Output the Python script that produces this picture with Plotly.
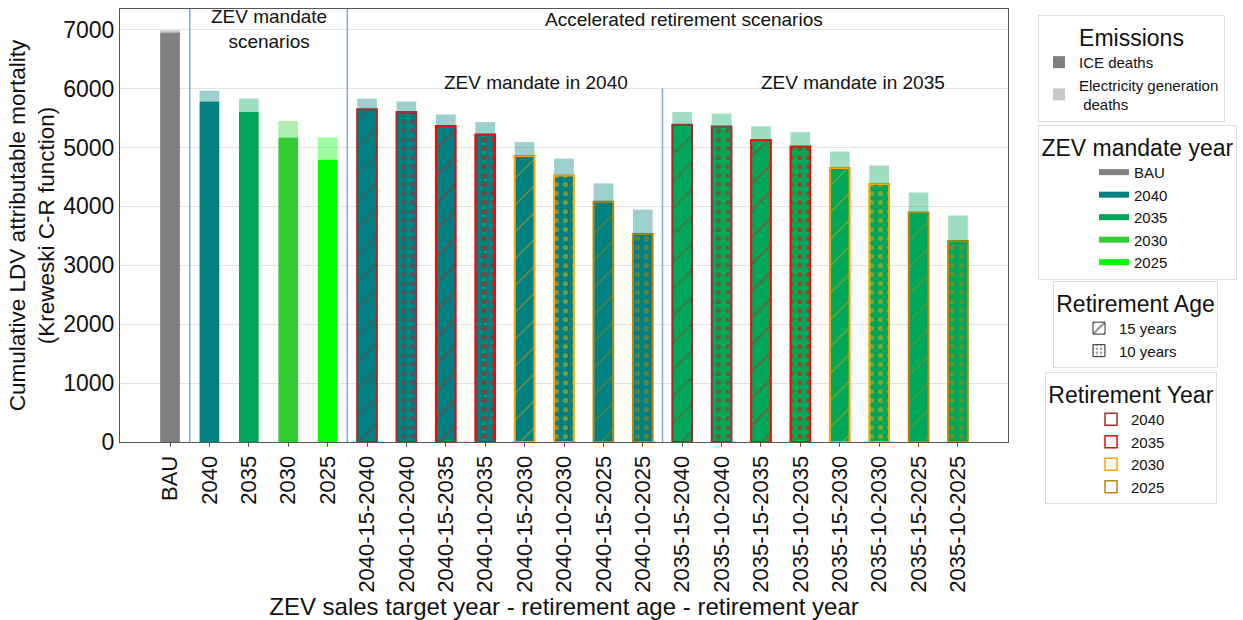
import plotly.graph_objects as go

# Scenario labels along the x axis
categories = [
    "BAU", "2040", "2035", "2030", "2025",
    "2040-15-2040", "2040-10-2040", "2040-15-2035", "2040-10-2035",
    "2040-15-2030", "2040-10-2030", "2040-15-2025", "2040-10-2025",
    "2035-15-2040", "2035-10-2040", "2035-15-2035", "2035-10-2035",
    "2035-15-2030", "2035-10-2030", "2035-15-2025", "2035-10-2025",
]

# Cumulative deaths attributable to ICE emissions
ice_deaths = [
    6950, 5780, 5600, 5170, 4790,
    5650, 5600, 5365, 5220, 4855, 4525, 4080, 3530,
    5385, 5355, 5125, 5015, 4650, 4380, 3895, 3410,
]

# Cumulative deaths attributable to electricity generation
elec_deaths = [
    40, 185, 230, 280, 380,
    180, 180, 195, 210, 235, 285, 310, 415,
    215, 220, 235, 245, 280, 315, 340, 435,
]

# ZEV mandate year, retirement age and retirement year for each scenario
mandate_year = ["BAU", "2040", "2035", "2030", "2025"] + ["2040"] * 8 + ["2035"] * 8
retire_age = [None] * 5 + ["15", "10"] * 8
retire_year = [None] * 5 + ["2040", "2040", "2035", "2035", "2030", "2030", "2025", "2025"] * 2

mandate_colors = {
    "BAU": "#808080", "2040": "#008080", "2035": "#00a65a",
    "2030": "#32cd32", "2025": "#00ff00",
}
mandate_light = {
    "BAU": "rgba(160,160,160,0.55)", "2040": "rgba(0,128,128,0.38)",
    "2035": "rgba(0,166,90,0.38)", "2030": "rgba(50,205,50,0.38)",
    "2025": "rgba(0,255,0,0.38)",
}
retire_colors = {"2040": "#a52a2a", "2035": "#ff0000", "2030": "#ffa500", "2025": "#b8860b"}
age_shapes = {"15": "/", "10": "."}

FONT = "Liberation Sans, Arial, sans-serif"
BAR_W = 0.5

fig = go.Figure()

# One ICE bar per scenario (hatched/outlined for retirement scenarios),
# with the electricity generation part stacked on top
for cat, ice, elec, m, age, ry in zip(categories, ice_deaths, elec_deaths,
                                      mandate_year, retire_age, retire_year):
    marker = dict(color=mandate_colors[m], line=dict(width=0))
    if ry is not None:
        ec = retire_colors[ry]
        marker["line"] = dict(color=ec, width=2)
        if age == "15":
            marker["pattern"] = dict(shape="/", fgcolor=ec, bgcolor=mandate_colors[m],
                                     fillmode="overlay", size=19, solidity=0.07)
        else:
            marker["pattern"] = dict(shape=".", fgcolor=ec, bgcolor=mandate_colors[m],
                                     fillmode="overlay", size=9, solidity=0.25)
    fig.add_trace(go.Bar(x=[cat], y=[ice], width=BAR_W, showlegend=False, marker=marker))
    fig.add_trace(go.Bar(x=[cat], y=[elec], base=[ice], width=BAR_W, showlegend=False,
                         marker=dict(color=mandate_light[m], line=dict(width=0))))

# Legend: emissions source
fig.add_trace(go.Bar(x=[None], y=[None], name="ICE deaths", legend="legend",
                     marker=dict(color="#808080", line=dict(width=0))))
fig.add_trace(go.Bar(x=[None], y=[None], name="Electricity generation<br> deaths", legend="legend",
                     marker=dict(color="#c8c8c8", line=dict(width=0))))

# Legend: ZEV mandate year
for m in ["BAU", "2040", "2035", "2030", "2025"]:
    fig.add_trace(go.Scatter(x=[None], y=[None], mode="lines", name=m, legend="legend2",
                             line=dict(color=mandate_colors[m], width=6)))

# Legend: retirement age
for a, lab in [("15", "15 years"), ("10", "10 years")]:
    fig.add_trace(go.Bar(x=[None], y=[None], name=lab, legend="legend3",
                         marker=dict(color="white", line=dict(color="#333333", width=1),
                                     pattern=dict(shape=age_shapes[a], fgcolor="#333333",
                                                  bgcolor="white", fillmode="overlay",
                                                  size=10 if a == "15" else 5, solidity=0.3))))

# Legend: retirement year
for r in ["2040", "2035", "2030", "2025"]:
    fig.add_trace(go.Bar(x=[None], y=[None], name=r, legend="legend4",
                         marker=dict(color="white", line=dict(color=retire_colors[r], width=1.5))))

# Separators between scenario groups
sep_line = dict(color="#7fa9d4", width=1.5)
fig.add_shape(type="line", x0=0.5, x1=0.5, y0=0, y1=1, xref="x", yref="paper", line=sep_line)
fig.add_shape(type="line", x0=4.5, x1=4.5, y0=0, y1=1, xref="x", yref="paper", line=sep_line)
fig.add_shape(type="line", x0=12.5, x1=12.5, y0=0, y1=6000, xref="x", yref="y", line=sep_line)

ann_font = dict(family=FONT, size=19, color="#111111")
fig.add_annotation(x=2.5, y=1.012, yref="paper", yanchor="top", text="ZEV mandate<br>scenarios",
                   showarrow=False, font=ann_font)
fig.add_annotation(x=13.05, y=1.005, yref="paper", yanchor="top",
                   text="Accelerated retirement scenarios", showarrow=False, font=ann_font)
fig.add_annotation(x=9.3, y=6110, text="ZEV mandate in 2040", showarrow=False, font=ann_font)
fig.add_annotation(x=17.33, y=6110, text="ZEV mandate in 2035", showarrow=False, font=ann_font)

legend_common = dict(
    xref="container", yref="container", xanchor="left", yanchor="top",
    bgcolor="white", bordercolor="#dddddd", borderwidth=1,
    font=dict(family=FONT, size=15, color="#111111"),
)
title_font = dict(family=FONT, size=23, color="#111111")

fig.update_layout(
    width=1243, height=620,
    margin=dict(l=120, r=235, t=9, b=178),
    paper_bgcolor="white", plot_bgcolor="white",
    barmode="overlay",
    font=dict(family=FONT, color="#111111"),
    legend=dict(**legend_common, x=1038 / 1243, y=1 - 15 / 620,
                title=dict(text="Emissions", side="top center", font=title_font)),
    legend2=dict(**legend_common, x=1038 / 1243, y=1 - 125 / 620, indentation=55,
                 title=dict(text="ZEV mandate year", side="top center", font=title_font)),
    legend3=dict(**legend_common, x=1053 / 1243, y=1 - 281 / 620, indentation=25,
                 title=dict(text="Retirement Age", side="top center", font=title_font)),
    legend4=dict(**legend_common, x=1045 / 1243, y=1 - 372 / 620, indentation=45,
                 title=dict(text="Retirement Year", side="top center", font=title_font)),
    xaxis=dict(
        type="category", range=[-1.27, 21.27],
        tickangle=-90, tickfont=dict(family=FONT, size=22),
        ticks="outside", ticklen=4, tickcolor="#555555",
        showline=True, linecolor="#555555", linewidth=1, mirror=True,
        showgrid=False,
        title=dict(text="ZEV sales target year - retirement age - retirement year",
                   font=dict(family=FONT, size=24), standoff=0),
    ),
    yaxis=dict(
        range=[0, 7350], tickvals=[0, 1000, 2000, 3000, 4000, 5000, 6000, 7000],
        tickfont=dict(family=FONT, size=23),
        showline=True, linecolor="#555555", linewidth=1, mirror=True,
        showgrid=True, gridcolor="#e3e3e3", zeroline=False,
        title=dict(text="Cumulative LDV attributable mortality<br>(Kreweski C-R function)",
                   font=dict(family=FONT, size=22.5), standoff=2),
    ),
)

fig.write_html("out.html")
